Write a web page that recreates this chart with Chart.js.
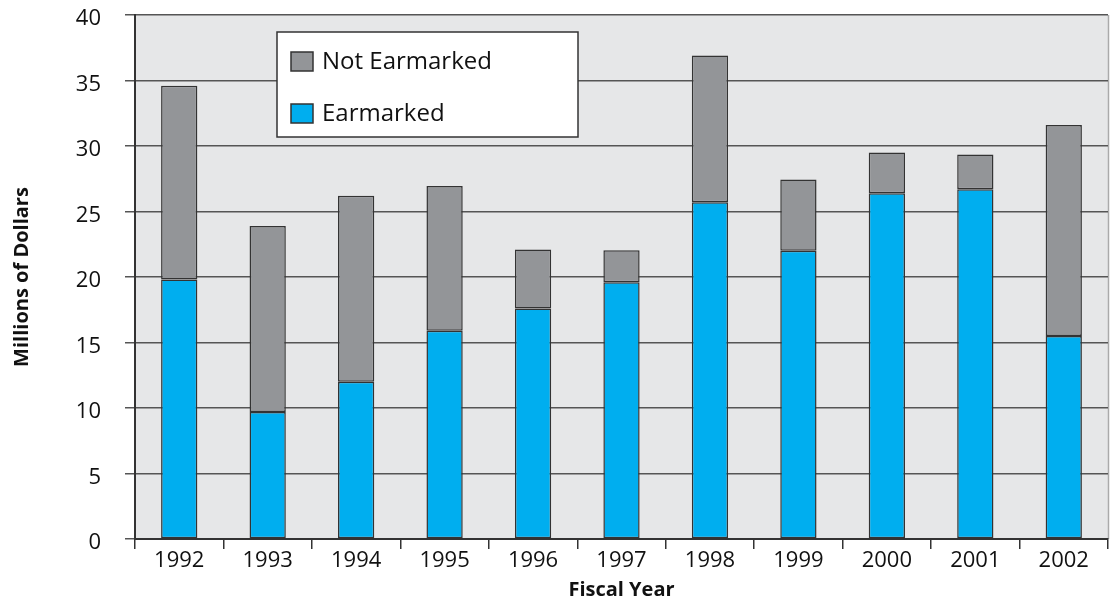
<!DOCTYPE html>
<html>
<head>
<meta charset="utf-8">
<script src="https://cdn.jsdelivr.net/npm/chart.js@4/dist/chart.umd.min.js"></script>
<style>
  html,body{margin:0;padding:0;background:#fff;}
  #wrap{width:1117px;height:601px;position:relative;}
</style>
</head>
<body>
<div id="wrap"><canvas id="chart"></canvas></div>
<script>
// === data ===
const years=["1992","1993","1994","1995","1996","1997","1998","1999","2000","2001","2002"];
const earmarked=[19.8,9.7,12.0,15.9,17.6,19.6,25.7,22.0,26.4,26.7,15.5];
const notEarmarked=[14.8,14.2,14.2,11.05,4.5,2.45,11.2,5.45,3.1,2.65,16.1];
const yTicks=[0,5,10,15,20,25,30,35,40];

const FONT="'Open Sans', 'Noto Sans', sans-serif";
const INK="#111";

// background of plot area
const plotBg={
  id:"plotBg",
  beforeDraw(c){
    const {ctx,chartArea:a}=c;
    ctx.save();
    ctx.fillStyle="#e6e7e8";
    ctx.fillRect(a.left,a.top,a.right-a.left,a.bottom-a.top);
    ctx.strokeStyle="#aaaaaa";ctx.lineWidth=1.5;
    ctx.beginPath();ctx.moveTo(a.right+0.5,a.top);ctx.lineTo(a.right+0.5,a.bottom);ctx.stroke();
    ctx.restore();
  }
};

// legend box inside plot
const boxLegend={
  id:"boxLegend",
  afterDraw(c){
    const ctx=c.ctx;
    const x=277,y=32,w=301,h=105;
    ctx.save();
    ctx.fillStyle="#fff";ctx.fillRect(x,y,w,h);
    ctx.strokeStyle="#333";ctx.lineWidth=1.5;ctx.strokeRect(x,y,w,h);
    const ds=c.data.datasets.slice().reverse();
    ds.forEach((d,i)=>{
      const sy=52+i*52;
      ctx.fillStyle=d.backgroundColor;ctx.fillRect(291,sy,22,19);
      ctx.strokeStyle="#333";ctx.lineWidth=1.5;ctx.strokeRect(291,sy,22,19);
      ctx.fillStyle=INK;ctx.font="24px "+FONT;ctx.textBaseline="middle";ctx.textAlign="left";
      ctx.fillText(d.label,322,sy+10);
    });
    ctx.restore();
  }
};

new Chart(document.getElementById("chart"),{
  type:"bar",
  data:{
    labels:years,
    datasets:[
      {label:"Earmarked",data:earmarked,backgroundColor:"#00aeef",borderColor:"#333",borderWidth:1.5,borderSkipped:false},
      {label:"Not Earmarked",data:notEarmarked,backgroundColor:"#939598",borderColor:"#333",borderWidth:1.5,borderSkipped:false}
    ]
  },
  options:{
    responsive:true,maintainAspectRatio:false,animation:false,
    layout:{padding:{top:15,right:9,left:0,bottom:0}},
    datasets:{bar:{categoryPercentage:1,barPercentage:0.41}},
    plugins:{legend:{display:false},tooltip:{enabled:false}},
    scales:{
      x:{
        stacked:true,
        afterFit(s){s.height=62;s.paddingLeft=0;s.paddingRight=0;},
        grid:{drawOnChartArea:false,drawTicks:true,tickLength:10,color:"#333",lineWidth:1.5,offset:true},
        border:{display:true,color:"#333",width:2},
        ticks:{color:INK,font:{family:FONT,size:22,lineHeight:1},padding:1,maxRotation:0},
        title:{display:true,text:"Fiscal Year",color:INK,font:{family:FONT,size:20,weight:"bold",lineHeight:1.1},padding:{top:0,bottom:0}}
      },
      y:{
        stacked:true,min:0,max:40,
        afterFit(s){s.width=135;s.paddingTop=0;s.paddingBottom=0;},
        afterBuildTicks(s){s.ticks=yTicks.map(v=>({value:v}));},
        grid:{color:"#555",lineWidth:1.5,tickLength:10,drawTicks:true},
        border:{display:true,color:"#333",width:2},
        ticks:{color:INK,font:{family:FONT,size:22},padding:24,labelOffset:4},
        title:{display:true,text:"Millions of Dollars",color:INK,font:{family:FONT,size:20,weight:"bold",lineHeight:1.1},padding:{top:11,bottom:0}}
      }
    }
  },
  plugins:[plotBg,boxLegend]
});
</script>
</body>
</html>
